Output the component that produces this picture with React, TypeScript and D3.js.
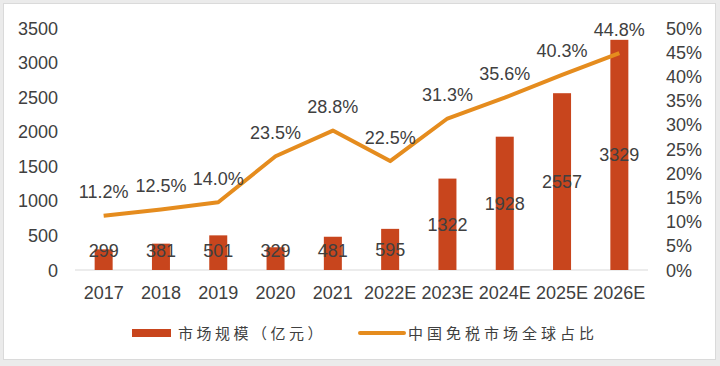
import React from "react";
import * as d3 from "d3";

const categories = ["2017", "2018", "2019", "2020", "2021", "2022E", "2023E", "2024E", "2025E", "2026E"];
const marketSize = [299, 381, 501, 329, 481, 595, 1322, 1928, 2557, 3329];
const globalShare = [11.2, 12.5, 14.0, 23.5, 28.8, 22.5, 31.3, 35.6, 40.3, 44.8];
const leftTicks = [0, 500, 1000, 1500, 2000, 2500, 3000, 3500];
const rightTicks = [0, 5, 10, 15, 20, 25, 30, 35, 40, 45, 50];
const legendLabels = ["市场规模（亿元）", "中国免税市场全球占比"];

const W = 720;
const H = 366;
const BAR = "#C8451D";
const LINE = "#E58C1E";
const TEXT = "#404040";
const NUM_FONT = "'Liberation Sans', Arial, sans-serif";
const CJK_FONT = "'Noto Sans CJK SC', sans-serif";

export default function App() {
  const x = d3.scaleBand<string>().domain(categories).range([75, 648]).paddingInner(0).paddingOuter(0);
  const yL = d3.scaleLinear().domain([0, 3500]).range([270, 28]);
  const yR = d3.scaleLinear().domain([0, 50]).range([270, 28]);
  const barW = 18;
  const cx = (c: string) => (x(c) as number) + x.bandwidth() / 2;

  const line = d3
    .line<number>()
    .x((_, i) => cx(categories[i]))
    .y((d) => yR(d));

  return (
    <svg width={W} height={H} style={{ position: "absolute", left: 0, top: 0 }}>
      <rect x={0} y={0} width={W} height={H} fill="#ebebeb" />
      <rect x={3.5} y={3.5} width={712} height={356} fill="#ffffff" stroke="#dadada" strokeWidth={1} />

      {/* baseline */}
      <line x1={75} x2={648} y1={yL(0)} y2={yL(0)} stroke="#d9d9d9" strokeWidth={1} />

      {/* left axis labels */}
      {leftTicks.map((t) => (
        <text key={"l" + t} x={58} y={yL(t) + 6.5} textAnchor="end" fontFamily={NUM_FONT} fontSize={18} fill={TEXT}>
          {t}
        </text>
      ))}
      {/* right axis labels */}
      {rightTicks.map((t) => (
        <text key={"r" + t} x={666} y={yR(t) + 6.5} textAnchor="start" fontFamily={NUM_FONT} fontSize={18} fill={TEXT}>
          {t + "%"}
        </text>
      ))}
      {/* x labels */}
      {categories.map((c) => (
        <text key={"x" + c} x={cx(c)} y={299} textAnchor="middle" fontFamily={NUM_FONT} fontSize={18} fill={TEXT}>
          {c}
        </text>
      ))}

      {/* bars */}
      {marketSize.map((v, i) => (
        <rect
          key={"b" + i}
          x={cx(categories[i]) - barW / 2}
          y={yL(v)}
          width={barW}
          height={yL(0) - yL(v)}
          fill={BAR}
        />
      ))}

      {/* line */}
      <path d={line(globalShare) || ""} fill="none" stroke={LINE} strokeWidth={4} strokeLinejoin="round" strokeLinecap="butt" />

      {/* bar labels */}
      {marketSize.map((v, i) => (
        <text
          key={"bl" + i}
          x={cx(categories[i])}
          y={Math.min(yL(v / 2), 250) + 6.5}
          textAnchor="middle"
          fontFamily={NUM_FONT}
          fontSize={18}
          fill={TEXT}
        >
          {v}
        </text>
      ))}

      {/* line labels */}
      {globalShare.map((v, i) => (
        <text
          key={"ll" + i}
          x={cx(categories[i])}
          y={yR(v) - 17.5}
          textAnchor="middle"
          fontFamily={NUM_FONT}
          fontSize={18}
          fill={TEXT}
        >
          {v.toFixed(1) + "%"}
        </text>
      ))}

      {/* legend */}
      <rect x={132} y={329} width={39} height={8} fill={BAR} />
      <text x={178} y={338.5} fontFamily={CJK_FONT} fontSize={15} letterSpacing={3.5} fill={TEXT}>
        {legendLabels[0]}
      </text>
      <line x1={360} x2={404} y1={333} y2={333} stroke={LINE} strokeWidth={4} strokeLinecap="round" />
      <text x={408} y={338.5} fontFamily={CJK_FONT} fontSize={15} letterSpacing={4} fill={TEXT}>
        {legendLabels[1]}
      </text>
    </svg>
  );
}
